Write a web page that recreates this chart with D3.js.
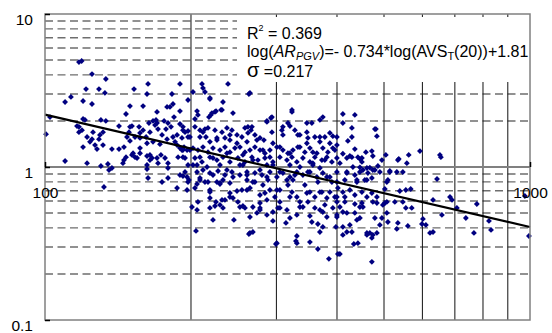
<!DOCTYPE html>
<html>
<head>
<meta charset="utf-8">
<script src="https://cdn.jsdelivr.net/npm/d3@7.9.0/dist/d3.min.js"></script>
<style>
  body { margin: 0; background: #fff; }
  svg { display: block; font-family: Arial, "Liberation Sans", sans-serif; }
</style>
</head>
<body>
<svg id="chart" width="552" height="333"></svg>
<script>
// ─── Data ────────────────────────────────────────────────────────────────────
// each point: [AVS_T(20), AR_PGV]
const points = [
  [117.5,4.85],[119,4.93],[125,4.05],[133.5,3.76],[113.1,2.87],[110,2.66],[121.5,3.23],[129.2,3.23],[132.9,3.05],[119.8,2.70],
  [125,2.58],[102.4,2.12],[100.5,1.64],[116.4,1.85],[117.5,1.83],[119.8,2.06],[120.9,2.03],[119.2,1.74],[117.5,1.69],[125.6,1.69],
  [130.4,2.03],[133.5,2.00],[122.1,1.57],[125,1.52],[123.8,1.46],[129.8,1.62],[131.7,1.69],[129.2,1.52],[119.8,1.35],[126.8,1.39],
  [128,1.31],[131.7,1.39],[137.4,1.31],[142.1,1.31],[142.1,1.85],[146.9,2.22],[149,1.69],[149.7,2.50],[152.6,3.23],[159.3,2.50],
  [162.3,3.00],[163.1,3.49],[170.2,2.29],[178.5,2.47],[181,2.47],[183.6,2.58],[182.7,3.00],[189.8,3.49],[197.2,2.74],[189.8,2.32],
  [184.5,2.12],[110,1.095],[122.1,1.06],[130.4,1.015],[134.8,1.046],[145.5,1.11],[146.9,1.16],[154.8,1.145],[157,1.33],[149.7,1.83],
  [151.1,1.85],[156.3,1.83],[147.6,1.57],[149.7,1.48],[153.3,1.57],[157,1.55],[161.6,1.57],[163.8,1.94],[167,2.00],[169.4,2.03],
  [170.2,1.94],[168.6,1.88],[171,1.77],[176,2.00],[179.3,1.94],[177.6,1.77],[164.6,1.69],[162.3,1.43],[167,1.46],[172.6,1.41],
  [178.5,1.52],[183.6,1.57],[185.4,1.46],[187.2,1.39],[189.8,1.33],[192.5,1.29],[193.5,1.35],[196.3,1.29],[189.8,1.91],[192.5,1.74],
  [194.4,1.69],[197.2,1.72],[187.2,1.62],[191.6,1.55],[197.2,1.57],[157,1.23],[162.3,1.18],[164.6,1.11],[170.2,1.145],[173.4,1.20],
  [176.8,1.145],[179.3,1.06],[171,1.06],[162.3,1.03],[188.1,1.16],[192.5,1.16],[197.2,1.03],[151.9,1.23],[144.8,1.06],[137.4,0.985],
  [145.5,1.35],[157,1.67],[159.3,1.74],[181.9,1.83],[174.3,1.62],
  [210.7,3.49],[238.4,3.49],[213.7,3.09],[263.3,3.00],[201.9,3.09],[218.8,2.78],[232.8,2.66],[205.8,2.32],[225.2,2.32],[220.9,2.25],
  [230.6,2.36],[217.8,2.12],[203.8,2.06],[286.8,2.00],[292.3,2.09],[323,2.29],[374,2.12],[392.2,1.59],[386.7,1.43],[203.8,1.83],
  [208.7,1.74],[213.7,1.77],[216.8,1.80],[224.1,1.74],[231.7,1.69],[237.2,1.80],[242.9,1.74],[248.8,1.62],[262.1,1.83],[265.9,1.74],
  [270.9,1.62],[208.7,1.57],[214.7,1.57],[218.8,1.46],[226.2,1.55],[235,1.55],[240.6,1.50],[254.7,1.57],[260.9,1.46],[277.5,1.55],
  [282.7,1.50],[295.1,1.43],[307.9,1.74],[309.4,1.62],[319.9,1.85],[327.5,1.74],[335.4,1.62],[346.7,1.69],[348.4,1.55],[360.1,1.57],
  [368.8,1.46],[377.6,1.57],[386.7,1.67],[399.8,1.57],[399.8,1.39],
  [201.9,1.33],[206.7,1.29],[211.7,1.35],[216.8,1.25],[222,1.33],[229.5,1.29],[235,1.35],[240.6,1.25],[246.4,1.33],[252.3,1.35],
  [258.4,1.25],[264.6,1.29],[270.9,1.35],[277.5,1.29],[284.1,1.23],[290.9,1.29],[300.7,1.35],[309.4,1.29],[316.9,1.23],[324.5,1.29],
  [332.2,1.35],[343.4,1.25],[351.7,1.33],[363.5,1.23],[374,1.33],[383,1.25],[392.2,1.33],
  [203.8,1.145],[210.7,1.08],[218.8,1.16],[226.2,1.11],[232.8,1.16],[240.6,1.08],[249.9,1.145],[258.4,1.08],[267.1,1.16],[274.8,1.11],
  [284.1,1.145],[295.1,1.08],[305,1.16],[315.4,1.11],[323,1.16],[330.6,1.08],[340.2,1.145],[351.7,1.08],[360.1,1.16],[372.3,1.11],
  [381.2,1.16],[390.4,1.08],[399.8,1.145],[205.8,1.03],[229.5,1.03],[255.9,1.03],[286.8,1.03],[319.9,1.03],[356.7,1.03],
  [411.3,2.22],[435.4,2.19],[411.3,1.94],[429.3,1.80],[478.8,1.77],[483.4,1.59],[429.3,1.57],[421.2,1.48],[435.4,1.31],[458.8,1.25],
  [472,1.27],[474.2,1.18],[425.2,1.18],[411.3,1.22],[441.7,1.16],[445.9,1.13],[450.2,1.08],[419.2,1.145],[504.4,1.20],[495,1.11],
  [536.4,1.13],[562.3,1.20],[557.3,1.06],[593,1.27],[652,1.20],[655,1.16],[431.4,1.0],[445.9,0.995],[467.5,0.99],[485.7,1.015],
  [419.2,0.928],[435.4,0.887],[452.3,0.956],[463.2,0.914],[472,0.847],[456.6,0.822],[439.6,0.798],[415.2,0.822],[474.2,0.956],[490.3,0.928],
  [514,0.928],[531.4,0.928],[546.8,0.928],[509.3,0.822],[506.8,0.798],[643.1,0.835],[502,0.718],[539,0.697],[554.6,0.707],[567.7,0.718],
  [411.3,0.686],[415.2,0.637],[435.4,0.656],[450.2,0.686],[472,0.676],[483.4,0.637],[502,0.582],[506.8,0.591],[526.4,0.591],[546.8,0.591],
  [554.6,0.540],[570.4,0.540],[631,0.609],[684,0.637],[690.5,0.609],[777,0.573],[976,0.646],[706.7,0.540],[658.2,0.486],[601.5,0.458],
  [598.7,0.424],[610,0.418],[622,0.371],[631,0.376],[737.5,0.464],[766.3,0.371],[823,0.444],[831,0.388],[995,0.354],
  [415.2,0.591],[411.3,0.508],[419.2,0.501],[435.4,0.573],[450.2,0.582],[452.4,0.548],[435.4,0.501],[439.6,0.451],[425.2,0.418],[429.3,0.376],
  [411.3,0.406],[411.3,0.360],[433.3,0.314],[441.7,0.318],[461,0.360],[467.5,0.371],[474.2,0.360],[483.4,0.371],[472,0.344],[490.3,0.418],
  [478.8,0.464],[495,0.464],[509.3,0.437],[534,0.431],[559.9,0.412],[531.4,0.394],[472,0.240],[405.5,0.270],[461,0.822],[474.2,0.591],
  [497.3,0.565],[506.8,0.501],[481.1,1.77],[534,1.11],[450.2,1.145],[514,0.942],
  [204.8,0.382],[200.9,0.548],[206.7,0.591],[218.8,0.627],[224.1,0.556],[225.2,0.591],[231.7,0.609],[235,0.609],[240.6,0.637],[244.1,0.627],
  [249.9,0.591],[255.9,0.556],[258.4,0.540],[245.2,0.451],[263.3,0.365],[268.3,0.376],[268.3,0.548],[277.5,0.582],[277.5,0.540],[286.8,0.486],
  [295.1,0.444],[299.3,0.314],[302.2,0.540],[315.4,0.524],[319.9,0.464],[313.9,0.431],[330.6,0.354],[329.1,0.328],[330.6,0.318],[351.7,0.323],
  [365.3,0.424],[368.8,0.376],[365.3,0.291],[384.9,0.251],[401.7,0.270],[397.9,0.406],[381.2,0.471],[351.7,0.479],[340.2,0.548],[360.1,0.540],
  [374,0.508],[392.2,0.540],[399.8,0.591],
  [205.8,0.774],[213.7,0.798],[216.8,0.798],[226.2,0.798],[229.5,0.774],[218.8,0.707],[248.8,0.697],[254.7,0.707],[264.6,0.729],[240.6,0.786],
  [270.9,0.798],[281.4,0.763],[284.1,0.676],[290.9,0.707],[297.9,0.637],[305,0.707],[316.9,0.763],[323,0.686],[330.6,0.637],[335.4,0.591],
  [343.4,0.763],[351.7,0.686],[360.1,0.637],[372.3,0.686],[381.2,0.627],[386.7,0.686],[396,0.637],[401.7,0.729],
  [205.8,0.928],[211.7,0.956],[218.8,0.914],[227.4,0.942],[235,0.887],[242.9,0.928],[252.3,0.887],[260.9,0.928],[270.9,0.914],[280.1,0.887],
  [290.9,0.928],[300.7,0.860],[309.4,0.914],[319.9,0.860],[330.6,0.928],[340.2,0.887],[351.7,0.928],[363.5,0.860],[374,0.914],[386.7,0.860],
  [399.8,0.928],[208.7,0.847],[232.8,0.822],[260.9,0.822],[288.2,0.822],[324.5,0.822],[365.3,0.798],[399.8,0.798],
  [305,0.591],[286.8,0.609],[348.4,0.591],[377.6,0.565],[399.8,0.486],[355,0.437],[295.1,0.508],[273.5,0.501],[232.8,0.540],[218.8,0.540],
  [135.5,0.956],[132.3,0.740],[162.3,0.970],[163.1,0.847],[174.3,0.798],[179.3,0.847],[187.2,0.729],[189.8,0.887],[192.5,0.873],[194.4,0.928],
  [196.3,0.707],[198,0.822],[151.1,1.20],[153.3,1.16],[164.6,1.20],[166.2,1.145],[179.3,0.985],[197.2,0.798],
  [206.7,2.19],[224.1,2.29],[231.7,2.36],[219.8,2.19],[244.1,2.25],[258.4,1.80],[267.1,1.83],[262.1,1.67],[286.8,1.97],[293.7,1.69],
  [309.4,1.83],[316.9,1.94],[323,2.36],[332.2,1.62],[346.7,1.94],[355,1.94],[368.8,2.03],[346.7,1.43],[368.8,1.57],[396,1.29],
  [429.3,1.16],[478.8,0.956],[461,0.985],[445.9,0.928],[439.6,0.822],[419.2,0.914],[405.5,1.06],[390.4,0.798],[381.2,0.860],[368.8,0.985],
  [356.7,1.06],[348.4,0.928],[335.4,1.0],[327.5,0.887],[315.4,0.822],[305,0.928],[295.1,1.03],[286.8,0.860],[277.5,0.956],[268.3,0.798],
  [260.9,0.887],[252.3,1.03],[244.1,0.860],[237.2,0.956],[229.5,0.786],[222,0.887],[215.8,1.0],[208.7,0.822],[201.9,1.03],[196.3,0.860],
  [203.8,0.729],[218.8,0.686],[240.6,0.676],[260.9,0.707],[277.5,0.656],[300.7,0.707],[319.9,0.637],[346.7,0.676],[368.8,0.686],[399.8,0.637],
  [425.2,0.707],[461,0.637],[483.4,0.582],[445.9,0.548],[405.5,0.548],[368.8,0.524],[335.4,0.548],[305,0.540],[277.5,0.524],[252.3,0.548],
  [229.5,0.565],[205.8,0.524],[222,0.451],[264.6,0.471],[330.6,0.486],[399.8,0.471],[445.9,0.464],[374,0.406],[419.2,0.376],[461,0.371],
  [300.7,0.318],[264.6,0.371],
  [192.5,1.83],[199,1.57],[211.7,1.69],[226.2,1.50],[240.6,1.62],[248.8,1.43],[273.5,1.50],[281.4,1.29],[305,1.35],[319.9,1.23],
  [335.4,1.35],[356.7,1.25],[377.6,1.11],[208.7,1.16],[222,1.145],[237.2,1.23],[255.9,1.20],[268.3,1.11],[290.9,1.16],[199,1.29],
  [191.6,1.29],[194.4,1.145],
  [211.7,3.28],[218.8,2.83],[264.6,3.05],[293.7,2.12]
];

// regression: log(AR) = slope*log(AVS) + intercept
const fitSlope = -0.734;
const fitIntercept = 1.81;
const fitRange = [100, 1000];

const xTicks = [100, 1000];
const yTicks = [0.1, 1, 10];
const xGrid = [200, 300, 400, 500, 600, 700, 800, 900];
const yGridMinor = [0.2, 0.3, 0.4, 0.5, 0.6, 0.7, 0.8, 0.9, 2, 3, 4, 5, 6, 7, 8, 9];

// ─── Scales ──────────────────────────────────────────────────────────────────
const plotLeft = 45, plotRight = 530, plotTop = 14, plotBottom = 320;
const x = d3.scaleLog().domain([100, 1000]).range([plotLeft, plotRight]);
const y = d3.scaleLog().domain([0.1, 10]).range([plotBottom, plotTop]);

const svg = d3.select('#chart');

// ─── Grid ────────────────────────────────────────────────────────────────────
svg.append('g')
  .selectAll('line')
  .data(yGridMinor)
  .join('line')
  .attr('x1', plotLeft).attr('x2', plotRight)
  .attr('y1', d => y(d)).attr('y2', d => y(d))
  .attr('stroke', '#6e6e6e')
  .attr('stroke-width', 1.4)
  .attr('stroke-dasharray', '8,4.5');

svg.append('g')
  .selectAll('line')
  .data(xGrid)
  .join('line')
  .attr('x1', d => x(d)).attr('x2', d => x(d))
  .attr('y1', plotTop).attr('y2', plotBottom)
  .attr('stroke', '#111')
  .attr('stroke-width', 1);

// y = 1 line
svg.append('line')
  .attr('x1', plotLeft).attr('x2', plotRight)
  .attr('y1', y(1)).attr('y2', y(1))
  .attr('stroke', '#808080')
  .attr('stroke-width', 2);

// white box behind the statistics text
svg.append('rect')
  .attr('x', 237).attr('y', 17)
  .attr('width', 292).attr('height', 65)
  .attr('fill', '#fff');

// ─── Points ──────────────────────────────────────────────────────────────────
const marker = d3.symbol().type(d3.symbolSquare).size(17)();
svg.append('g')
  .selectAll('path')
  .data(points)
  .join('path')
  .attr('d', marker)
  .attr('transform', d => `translate(${x(d[0])},${y(d[1])}) rotate(45)`)
  .attr('fill', '#000080');

// ─── Fit line ────────────────────────────────────────────────────────────────
const fitLine = d3.line()
  .x(d => x(d))
  .y(d => y(Math.pow(10, fitSlope * Math.log10(d) + fitIntercept)));
svg.append('path')
  .attr('d', fitLine(fitRange))
  .attr('fill', 'none')
  .attr('stroke', '#000')
  .attr('stroke-width', 2.2);

// ─── Frame ───────────────────────────────────────────────────────────────────
svg.append('rect')
  .attr('x', plotLeft).attr('y', plotTop)
  .attr('width', plotRight - plotLeft).attr('height', plotBottom - plotTop)
  .attr('fill', 'none')
  .attr('stroke', '#808080')
  .attr('stroke-width', 1.5);

// ─── Axes ────────────────────────────────────────────────────────────────────
const yAxis = svg.append('g')
  .attr('transform', `translate(${plotLeft},0)`)
  .call(d3.axisLeft(y).tickValues(yTicks).tickFormat(d => String(d)).tickSize(-5).tickPadding(12));

const xAxis = svg.append('g')
  .attr('transform', `translate(0,${y(1)})`)
  .call(d3.axisBottom(x).tickValues(xTicks).tickFormat(d => String(d)).tickSize(-5).tickPadding(20));

[yAxis, xAxis].forEach(g => {
  g.select('.domain').remove();
  g.selectAll('line').attr('stroke', '#000').attr('stroke-width', 1.5);
  g.selectAll('text')
    .attr('font-family', 'Arial, "Liberation Sans", sans-serif')
    .attr('font-size', 15.5)
    .attr('fill', '#000');
});
yAxis.selectAll('text').attr('dy', '0.66em');

// ─── Statistics text ─────────────────────────────────────────────────────────
const stats = svg.append('g')
  .attr('font-size', 16)
  .attr('fill', '#000');

const t1 = stats.append('text').attr('x', 247).attr('y', 39);
t1.append('tspan').text('R');
t1.append('tspan').attr('font-size', 9).attr('dy', -8).text('2');
t1.append('tspan').attr('dy', 8).text(' = 0.369');

const t2 = stats.append('text').attr('x', 247).attr('y', 57);
t2.append('tspan').text('log(');
t2.append('tspan').attr('font-style', 'italic').text('AR');
t2.append('tspan').attr('font-style', 'italic').attr('font-size', 11).attr('dy', 3).text('PGV');
t2.append('tspan').attr('dy', -3).text(')=- 0.734*log(AVS');
t2.append('tspan').attr('font-size', 11).attr('dy', 3).text('T');
t2.append('tspan').attr('dy', -3).text('(20))+1.81');

const t3 = stats.append('text').attr('x', 247).attr('y', 77);
t3.append('tspan').attr('font-size', 20).text('σ');
t3.append('tspan').text(' =0.217');
</script>
</body>
</html>
